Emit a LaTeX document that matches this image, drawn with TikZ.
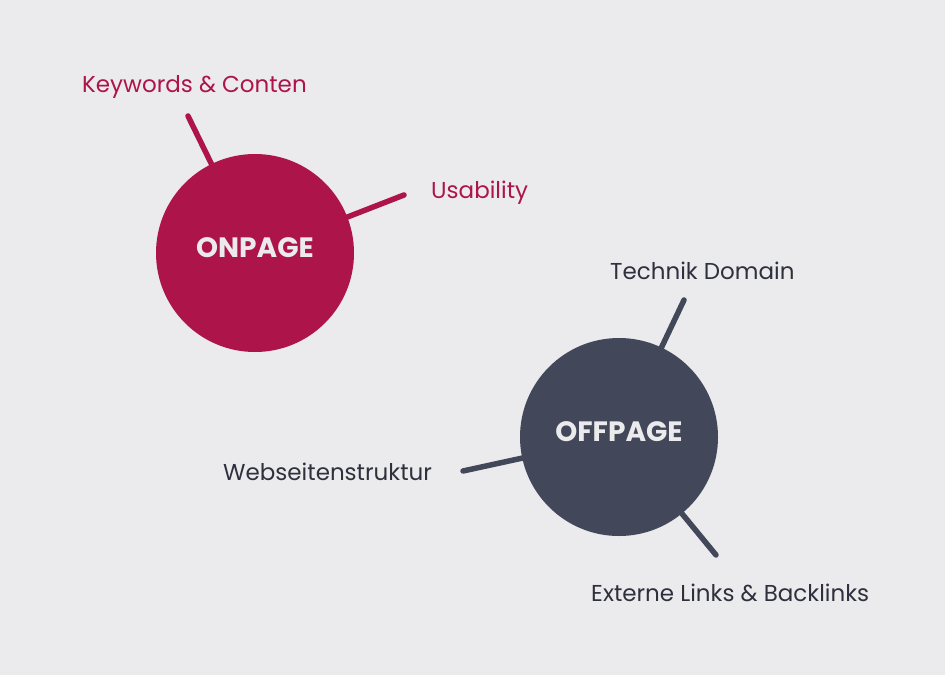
\documentclass[tikz,border=0pt]{standalone}
\usepackage{fontspec}
\setmainfont{Poppins}
\definecolor{bg}{HTML}{EBEBED}
\definecolor{crim}{HTML}{AD1449}
\definecolor{slate}{HTML}{424759}
\definecolor{dtext}{HTML}{2F303D}
\begin{document}
\begin{tikzpicture}[x=1pt,y=-1pt,
  bubble/.style={circle,minimum size=198pt,inner sep=0pt},
  bubbletxt/.style={font=\fontsize{28}{32}\selectfont\bfseries,text=bg,anchor=base,inner sep=0pt},
  lbl/.style={font=\fontsize{23}{28}\selectfont,anchor=base west,inner sep=0pt},
  spoke/.style={line width=5.5pt,line cap=round}]
\fill[bg] (0,0) rectangle (945,675);
\useasboundingbox (0,0) rectangle (945,675);
\node[bubble,fill=crim] (on) at (255,253) {};
\node[bubble,fill=slate] (off) at (619,437) {};
\node[bubbletxt] (ontxt) at (255,257) {ONPAGE};
\node[bubbletxt] (offtxt) at (619,441) {OFFPAGE};
\coordinate (kw) at (188,116);
\coordinate (us) at (404,195);
\coordinate (te) at (684,300);
\coordinate (we) at (463,471);
\coordinate (ex) at (716,555);
\draw[spoke,crim] (kw) -- (on);
\draw[spoke,crim] (us) -- (on);
\draw[spoke,slate] (te) -- (off);
\draw[spoke,slate] (we) -- (off);
\draw[spoke,slate] (ex) -- (off);
\node[lbl,text=crim] (kwl) at (82,92) {Keywords \& Conten};
\node[lbl,text=crim] (usl) at (431,198) {Usability};
\node[lbl,text=dtext] (tel) at (610,279) {Technik Domain};
\node[lbl,text=dtext] (wel) at (223,480) {Webseitenstruktur};
\node[lbl,text=dtext] (exl) at (591,601) {Externe Links \& Backlinks};
\end{tikzpicture}
\end{document}
